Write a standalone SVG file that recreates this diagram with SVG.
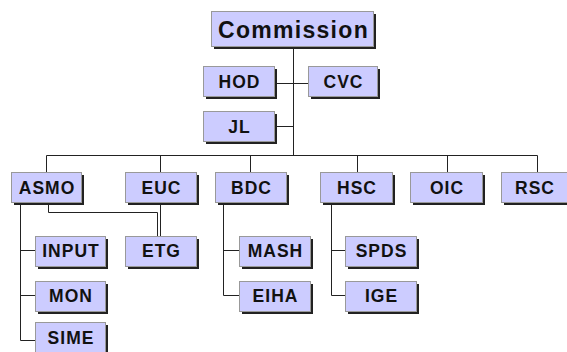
<svg xmlns="http://www.w3.org/2000/svg" width="567" height="352" viewBox="0 0 567 352">
<defs>
<style>
.sh{fill:#222;}
.bx{fill:#ccccff;stroke:#999;stroke-width:1;}
.t{font-family:"Liberation Sans",Arial,sans-serif;font-weight:bold;font-size:17.5px;letter-spacing:1px;fill:#111;text-anchor:middle;dominant-baseline:central;}
.tb{font-size:23px;letter-spacing:1.3px;}
.c{fill:none;stroke:#222;stroke-width:1;}
</style>
</defs>
<rect width="567" height="352" fill="#fff"/>
<g id="connectors">
<path class="c" d="M293.5,46V155.5M275,83.5H309M275,126.5H293.5M46.5,155.5H537.5M46.5,155.5V173M160.5,155.5V173M250.5,155.5V173M357.5,155.5V173M447.5,155.5V173M537.5,155.5V173"/>
<path class="c" d="M20.5,203V340.5H36M20.5,250.5H36M20.5,295.5H36"/>
<path class="c" d="M48.5,203V212.5H157.5V237M160.5,203V237"/>
<path class="c" d="M223.5,203V295.5H240M223.5,250.5H240"/>
<path class="c" d="M331.5,203V295.5H346M331.5,250.5H346"/>
</g>
<g id="n-commission"><rect class="sh" x="214" y="14" width="162" height="35"/><rect class="bx" x="211.5" y="11.5" width="162" height="35"/><text class="t tb" x="293.5" y="29.5">Commission</text></g>
<g id="n-hod"><rect class="sh" x="206" y="69" width="71" height="30"/><rect class="bx" x="203.5" y="66.5" width="71" height="30"/><text class="t" x="239.5" y="81.5">HOD</text></g>
<g id="n-cvc"><rect class="sh" x="311" y="69" width="69" height="30"/><rect class="bx" x="308.5" y="66.5" width="69" height="30"/><text class="t" x="343.5" y="81.5">CVC</text></g>
<g id="n-jl"><rect class="sh" x="206" y="114" width="71" height="30"/><rect class="bx" x="203.5" y="111.5" width="71" height="30"/><text class="t" x="239.5" y="126.5">JL</text></g>
<g id="n-asmo"><rect class="sh" x="14" y="175" width="70" height="30"/><rect class="bx" x="11.5" y="172.5" width="70" height="30"/><text class="t" x="47" y="187.5">ASMO</text></g>
<g id="n-euc"><rect class="sh" x="128" y="175" width="71" height="30"/><rect class="bx" x="125.5" y="172.5" width="71" height="30"/><text class="t" x="161.5" y="187.5">EUC</text></g>
<g id="n-bdc"><rect class="sh" x="218" y="175" width="71" height="30"/><rect class="bx" x="215.5" y="172.5" width="71" height="30"/><text class="t" x="251.5" y="187.5">BDC</text></g>
<g id="n-hsc"><rect class="sh" x="323" y="175" width="72" height="30"/><rect class="bx" x="320.5" y="172.5" width="72" height="30"/><text class="t" x="357" y="187.5">HSC</text></g>
<g id="n-oic"><rect class="sh" x="413" y="175" width="72" height="30"/><rect class="bx" x="410.5" y="172.5" width="72" height="30"/><text class="t" x="447" y="187.5">OIC</text></g>
<g id="n-rsc"><rect class="sh" x="504" y="175" width="72" height="30"/><rect class="bx" x="501.5" y="172.5" width="72" height="30"/><text class="t" x="535" y="187.5">RSC</text></g>
<g id="n-input"><rect class="sh" x="38" y="239" width="70" height="30"/><rect class="bx" x="35.5" y="236.5" width="70" height="30"/><text class="t" x="71" y="251">INPUT</text></g>
<g id="n-mon"><rect class="sh" x="38" y="284" width="70" height="30"/><rect class="bx" x="35.5" y="281.5" width="70" height="30"/><text class="t" x="71" y="296">MON</text></g>
<g id="n-sime"><rect class="sh" x="38" y="325" width="70" height="30"/><rect class="bx" x="35.5" y="322.5" width="70" height="30"/><text class="t" x="71" y="338">SIME</text></g>
<g id="n-etg"><rect class="sh" x="128" y="239" width="71" height="30"/><rect class="bx" x="125.5" y="236.5" width="71" height="30"/><text class="t" x="161.5" y="251">ETG</text></g>
<g id="n-mash"><rect class="sh" x="242" y="239" width="71" height="30"/><rect class="bx" x="239.5" y="236.5" width="71" height="30"/><text class="t" x="275.5" y="251">MASH</text></g>
<g id="n-eiha"><rect class="sh" x="242" y="284" width="71" height="30"/><rect class="bx" x="239.5" y="281.5" width="71" height="30"/><text class="t" x="275.5" y="296">EIHA</text></g>
<g id="n-spds"><rect class="sh" x="348" y="239" width="71" height="30"/><rect class="bx" x="345.5" y="236.5" width="71" height="30"/><text class="t" x="381.5" y="251">SPDS</text></g>
<g id="n-ige"><rect class="sh" x="348" y="284" width="71" height="30"/><rect class="bx" x="345.5" y="281.5" width="71" height="30"/><text class="t" x="381.5" y="296">IGE</text></g>
</svg>
